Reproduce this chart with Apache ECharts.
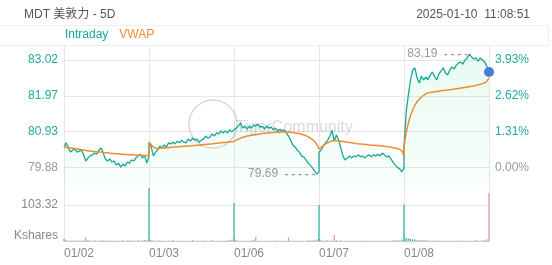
<!DOCTYPE html>
<html><head><meta charset="utf-8">
<script src="https://cdn.jsdelivr.net/npm/echarts@6/dist/echarts.min.js"></script>
<style>html,body{margin:0;padding:0;background:#fff}#c{width:552px;height:265px}</style>
</head><body><div id="c"></div>
<script>
const dates = ['01/02','01/03','01/06','01/07','01/08'];
const prevClose = 79.88;
const priceTicks = [79.88, 80.926, 81.973, 83.019];
const volTicks = [0, 103.32];

const price0102 = [80.48,80.60,80.45,80.33,80.39,80.42,80.33,80.36,80.39,80.25,80.07,80.16,80.22,80.25,80.30,80.27,80.39,80.45,80.30,80.13,80.07,80.13,80.04,80.07,79.95,80.01,79.89,79.98,79.92,80.04,80.01,80.10,80.07,80.16,80.22,80.27,80.16,80.22,80.01,80.22];
const price0103 = [80.62,80.48,80.22,80.33,80.39,80.51,80.45,80.54,80.48,80.60,80.57,80.62,80.57,80.65,80.60,80.68,80.62,80.60,80.71,80.65,80.74,80.68,80.71,80.62,80.68,80.71,80.80,80.74,80.77,80.86,80.80,80.89,80.86,80.95,80.89,80.95,80.89,80.98,80.92,80.98];
const price0106 = [80.98,81.03,81.09,81.18,81.03,81.09,81.00,81.09,81.03,81.12,81.09,81.15,81.06,81.09,81.00,81.09,81.03,81.06,80.98,81.03,80.95,81.00,80.95,80.98,80.89,80.80,80.68,80.54,80.48,80.39,80.33,80.22,80.19,80.10,80.01,79.95,79.87,79.78,79.69,79.75];
const price0107 = [80.33,80.39,80.51,80.60,80.68,80.80,80.97,80.65,80.83,80.68,80.45,80.22,80.10,80.16,80.22,80.16,80.22,80.19,80.25,80.19,80.22,80.16,80.22,80.25,80.19,80.25,80.22,80.27,80.22,80.30,80.25,80.19,80.22,80.13,80.04,79.95,79.89,79.84,79.75,79.87];
const price0108 = [80.48,81.50,82.00,82.44,82.73,82.79,82.50,82.35,82.55,82.44,82.52,82.44,82.58,82.67,82.55,82.44,82.61,82.70,82.79,82.64,82.58,82.73,82.82,82.76,82.87,82.93,82.96,82.90,83.02,83.08,83.19,83.11,83.05,83.08,82.99,83.08,83.02,82.96,82.84,82.67];

const vwap0102 = [80.48,80.47,80.46,80.45,80.44,80.43,80.42,80.41,80.40,80.39,80.38,80.37,80.36,80.35,80.35,80.34,80.33,80.33,80.32,80.31,80.31,80.30,80.29,80.29,80.28,80.28,80.27,80.27,80.26,80.26,80.25,80.25,80.25,80.24,80.24,80.24,80.23,80.23,80.23,80.22];
const vwap0103 = [80.62,80.55,80.48,80.45,80.44,80.44,80.45,80.45,80.46,80.46,80.47,80.47,80.48,80.48,80.49,80.49,80.50,80.50,80.51,80.51,80.52,80.52,80.53,80.53,80.54,80.55,80.55,80.56,80.57,80.57,80.58,80.59,80.59,80.60,80.61,80.61,80.62,80.63,80.63,80.64];
const vwap0106 = [80.65,80.68,80.71,80.74,80.76,80.78,80.80,80.81,80.82,80.83,80.84,80.85,80.86,80.87,80.88,80.89,80.89,80.90,80.90,80.91,80.91,80.91,80.92,80.92,80.92,80.91,80.91,80.90,80.89,80.88,80.87,80.85,80.83,80.81,80.78,80.74,80.70,80.64,80.56,80.42];
const vwap0107 = [80.39,80.47,80.53,80.57,80.60,80.63,80.66,80.66,80.66,80.66,80.65,80.64,80.63,80.62,80.61,80.60,80.59,80.58,80.57,80.57,80.56,80.55,80.55,80.54,80.53,80.53,80.52,80.52,80.51,80.51,80.50,80.49,80.48,80.47,80.46,80.45,80.43,80.41,80.37,80.22];
const vwap0108 = [80.50,80.90,81.18,81.40,81.56,81.70,81.80,81.88,81.94,81.99,82.03,82.06,82.07,82.08,82.09,82.10,82.11,82.12,82.13,82.14,82.14,82.15,82.16,82.17,82.18,82.19,82.20,82.21,82.22,82.23,82.24,82.25,82.26,82.28,82.29,82.31,82.33,82.35,82.40,82.49];

const vol0102 = [6,2,1,2,1,1,2,1,1,2,10,2,1,1,2,1,1,1,2,1,1,1,2,1,1,1,1,2,1,1,2,1,1,1,2,1,2,2,3,152];
const vol0103 = [5,3,2,1,1,2,1,1,1,1,1,2,1,1,1,1,1,1,1,1,2,1,1,1,1,1,1,1,1,2,1,1,1,1,1,1,2,2,4,109];
const vol0106 = [4,2,1,1,1,1,1,1,1,2,12,1,1,1,1,1,1,1,1,1,1,1,1,1,1,10,1,1,1,1,1,1,1,1,2,2,2,3,5,103];
const vol0107 = [6,2,1,1,2,1,1,17,2,1,2,1,1,1,1,1,1,1,1,1,1,1,1,1,1,1,1,1,1,1,1,1,1,1,2,2,2,3,4,105];
const vol0108 = [4,9,7,6,5,4,3,3,2,2,2,2,1,1,2,1,1,1,1,1,1,1,1,1,1,1,1,1,1,1,1,1,1,2,1,1,2,3,5,138];

const MIN_PER_DAY = 390, STEP = 10;
const priceDays = [price0102, price0103, price0106, price0107, price0108];
const vwapDays = [vwap0102, vwap0103, vwap0106, vwap0107, vwap0108];
const volDays = [vol0102, vol0103, vol0106, vol0107, vol0108];

const TEAL = '#16a898', ORANGE = '#f08c30', UP = '#26b0a2', DOWN = '#ee8b9f';
const priceData = [], vwapData = [], volData = [];
let prev = null;
priceDays.forEach((day, d) => {
  day.forEach((p, i) => {
    const t = d * MIN_PER_DAY + i * STEP;
    priceData.push([t, p]);
    vwapData.push([t, vwapDays[d][i]]);
    const up = prev === null || p >= prev;
    volData.push({ value: [t, volDays[d][i]], itemStyle: { color: up ? UP : DOWN } });
    prev = p;
  });
});
const last = priceData[priceData.length - 1];

const chart = echarts.init(document.getElementById('c'), null, { renderer: 'canvas' });
const FONT = '"Liberation Sans", Arial, "Noto Sans CJK SC", sans-serif';
const labelColor = v => (Math.abs(parseFloat(v) - prevClose) < 0.001 ? '#9a9a9a' : '#22a99c');
const gridLine = { show: true, lineStyle: { color: '#e6e6e6', width: 1 } };

chart.setOption({
  animation: false,
  textStyle: { fontFamily: FONT },
  title: [
    { text: 'MDT 美敦力 - 5D', left: 19, top: 4, textStyle: { fontSize: 12, fontWeight: 'normal', color: '#555', fontFamily: FONT } },
    { text: '2025-01-10  11:08:51', right: 17, top: 4, textStyle: { fontSize: 12, fontWeight: 'normal', color: '#555', fontFamily: FONT } }
  ],
  legend: {
    left: 60, top: 28, icon: 'none', itemWidth: 0, itemGap: 6, padding: 0,
    data: [
      { name: 'Intraday', textStyle: { color: TEAL } },
      { name: 'VWAP', textStyle: { color: ORANGE } }
    ],
    textStyle: { fontSize: 12, fontFamily: FONT }
  },
  graphic: [
    { type: 'line', shape: { x1: 0, y1: 25.5, x2: 549, y2: 25.5 }, style: { stroke: '#eeeeee', lineWidth: 1 } },
    { type: 'line', shape: { x1: 0, y1: 45.5, x2: 549, y2: 45.5 }, style: { stroke: '#eeeeee', lineWidth: 1 } },
    { type: 'line', shape: { x1: 548.5, y1: 25.5, x2: 548.5, y2: 45.5 }, style: { stroke: '#eeeeee', lineWidth: 1 } },
    { type: 'circle', shape: { cx: 213, cy: 124, r: 24 }, style: { fill: 'none', stroke: 'rgba(120,120,120,0.28)', lineWidth: 1.5 }, z: 100 },
    { type: 'text', left: 236, top: 120, style: { text: 'TigerCommunity', fill: 'rgba(120,120,120,0.28)', fontSize: 16, fontFamily: FONT }, z: 100 }
  ],
  grid: [
    { left: 64, right: 63, top: 46, height: 139 },
    { left: 64, right: 63, top: 169, height: 72 }
  ],
  xAxis: [
    { type: 'value', gridIndex: 0, min: 0, max: 1950, interval: 390,
      axisLine: { show: false }, axisTick: { show: false }, axisLabel: { show: false }, splitLine: gridLine },
    { type: 'value', gridIndex: 1, min: 0, max: 1950, interval: 390,
      axisLine: { show: true, lineStyle: { color: '#cccccc' } }, axisTick: { show: false },
      axisLabel: { color: '#888', fontSize: 12, align: 'left', margin: 7,
        formatter: v => (v / MIN_PER_DAY < dates.length ? dates[v / MIN_PER_DAY] : '') },
      splitLine: gridLine }
  ],
  yAxis: [
    { type: 'value', gridIndex: 0, position: 'left', min: 79.369, max: 83.429,
      axisLine: { show: false }, axisTick: { show: false, customValues: priceTicks },
      axisLabel: { customValues: priceTicks, formatter: v => v.toFixed(2), color: labelColor, fontSize: 12, margin: 6 },
      splitLine: gridLine },
    { type: 'value', gridIndex: 0, position: 'right', min: 79.369, max: 83.429,
      axisLine: { show: false }, axisTick: { show: false, customValues: priceTicks },
      axisLabel: { customValues: priceTicks, formatter: v => ((v - prevClose) / prevClose * 100).toFixed(2) + '%', color: labelColor, fontSize: 12, margin: 6 },
      splitLine: { show: false } },
    { type: 'value', gridIndex: 1, position: 'left', min: 0, max: 206.64,
      axisLine: { show: false }, axisTick: { show: false, customValues: volTicks },
      axisLabel: { customValues: volTicks, color: '#888', fontSize: 12, margin: 6,
        formatter: v => (v === 0 ? '{k|Kshares}' : v.toFixed(2)),
        rich: { k: { color: '#888', fontSize: 12, padding: [0, 0, 10, 0] } } },
      splitLine: gridLine }
  ],
  series: [
    { name: 'Intraday', type: 'line', xAxisIndex: 0, yAxisIndex: 0, data: priceData,
      showSymbol: false, smooth: false, lineStyle: { color: TEAL, width: 1.3 }, itemStyle: { color: TEAL },
      areaStyle: { origin: 'start', color: new echarts.graphic.LinearGradient(0, 0, 0, 1, [
        { offset: 0, color: 'rgba(90,225,160,0.20)' }, { offset: 1, color: 'rgba(90,225,160,0.06)' }]) },
      markPoint: {
        silent: true,
        data: [
          { type: 'max', symbol: 'circle', symbolSize: 1, itemStyle: { color: 'rgba(0,0,0,0)' },
            label: { show: true, position: 'left', distance: 1, formatter: p => '{v|' + p.value.toFixed(2) + '}  {d|- - - -}',
              rich: { v: { color: '#999', fontSize: 12 }, d: { color: '#999', fontSize: 11, fontWeight: 'bold' } } } },
          { type: 'min', symbol: 'circle', symbolSize: 1, itemStyle: { color: 'rgba(0,0,0,0)' },
            label: { show: true, position: 'left', distance: 1, formatter: p => '{v|' + p.value.toFixed(2) + '}  {d|- - - - -}',
              rich: { v: { color: '#999', fontSize: 12 }, d: { color: '#999', fontSize: 11, fontWeight: 'bold' } } } },
          { coord: last, symbol: 'circle', symbolSize: 10, itemStyle: { color: '#4a7cd8' }, label: { show: false } }
        ]
      } },
    { name: 'VWAP', type: 'line', xAxisIndex: 0, yAxisIndex: 0, data: vwapData,
      showSymbol: false, lineStyle: { color: ORANGE, width: 1.5 }, itemStyle: { color: ORANGE } },
    { name: 'Volume', type: 'bar', xAxisIndex: 1, yAxisIndex: 2, data: volData, barWidth: 1.2, barGap: '-100%' }
  ]
});
</script></body></html>
